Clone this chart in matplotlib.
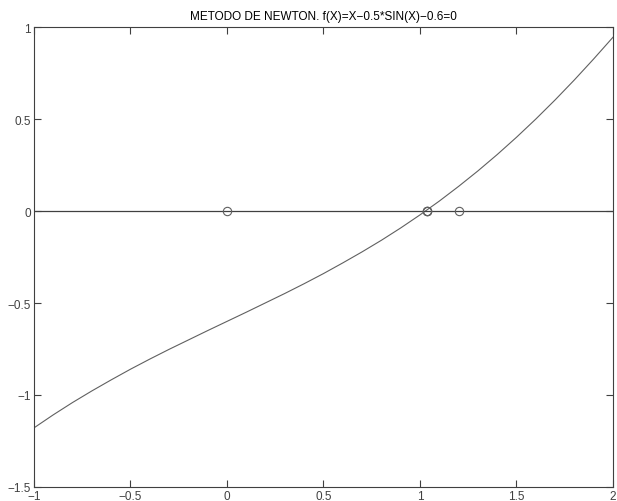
import matplotlib
matplotlib.use("Agg")
import matplotlib.pyplot as plt

plt.rcParams['font.family'] = ['Liberation Sans', 'DejaVu Sans']

# curve values, f(X) = X - 0.5*sin(X) - 0.6
x_vals = [-1.0, -0.9, -0.8, -0.7, -0.6, -0.5, -0.4, -0.3, -0.2, -0.1, 0.0,
          0.1, 0.2, 0.3, 0.4, 0.5, 0.6, 0.7, 0.8, 0.9, 1.0,
          1.1, 1.2, 1.3, 1.4, 1.5, 1.6, 1.7, 1.8, 1.9, 2.0]
y_vals = [-1.179, -1.108, -1.041, -0.978, -0.918, -0.860, -0.805, -0.752, -0.701, -0.650, -0.600,
          -0.550, -0.499, -0.448, -0.395, -0.340, -0.282, -0.222, -0.159, -0.092, -0.021,
          0.054, 0.134, 0.218, 0.307, 0.401, 0.500, 0.604, 0.713, 0.827, 0.945]

# newton iterates
iter_x = [0.0, 1.2, 1.036, 1.0342, 1.0342]
iter_y = [0, 0, 0, 0, 0]

axis_x = [-1, 2]
axis_y = [0, 0]

fig = plt.figure(figsize=(6.17, 5.02), dpi=100)
ax = fig.add_axes([0.055, 0.028, 0.9385, 0.916])

ax.plot(x_vals, y_vals, color='#606060', linewidth=0.8)
ax.plot(axis_x, axis_y, color='#404040', linewidth=0.9)
ax.plot(iter_x, iter_y, 'o', markerfacecolor='none', markeredgecolor='#606060',
        markersize=6, markeredgewidth=0.8)

ax.set_xlim(-1, 2)
ax.set_ylim(-1.5, 1)
ax.set_xticks([-1, -0.5, 0, 0.5, 1, 1.5, 2])
ax.set_yticks([-1.5, -1, -0.5, 0, 0.5, 1])
ax.set_xticklabels(['\u22121', '\u22120.5', '0', '0.5', '1', '1.5', '2'])
ax.set_yticklabels(['\u22121.5', '\u22121', '\u22120.5', '0', '0.5', '1'])
ax.tick_params(direction='in', top=True, right=True, labelsize=8.5, length=5,
               colors='#404040', pad=2)
for s in ax.spines.values():
    s.set_color('#404040')
    s.set_linewidth(0.8)

ax.set_title('METODO DE NEWTON. f(X)=X\u22120.5*SIN(X)\u22120.6=0', fontsize=8.5, pad=6)

plt.savefig('out.png', dpi=100)
